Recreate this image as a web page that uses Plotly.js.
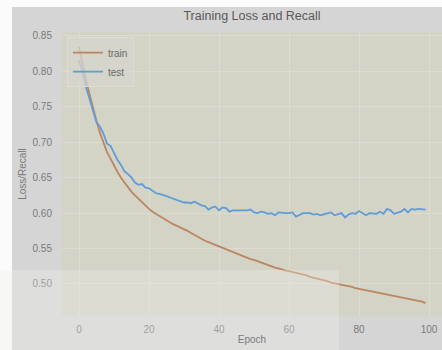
<!DOCTYPE html>
<html>
<head>
<meta charset="utf-8">
<script src="https://cdn.plot.ly/plotly-3.0.1.min.js"></script>
<style>
  html, body { margin: 0; padding: 0; background: #ffffff; }
  #chart { width: 442px; height: 350px; }
</style>
</head>
<body>
<div id="chart"></div>
<script>
// Per-epoch loss (train) and recall (test) history
const epochs = Array.from({length: 100}, (_, i) => i);

const trainValues = [
  0.835, 0.810, 0.788, 0.768, 0.748, 0.730, 0.713, 0.698, 0.686, 0.677,
  0.667, 0.658, 0.650, 0.643, 0.636, 0.630, 0.625, 0.620, 0.615, 0.610,
  0.606, 0.602, 0.599, 0.596, 0.593, 0.589, 0.587, 0.584, 0.582, 0.580,
  0.577, 0.575, 0.572, 0.569, 0.566, 0.563, 0.561, 0.559, 0.557, 0.555,
  0.553, 0.551, 0.549, 0.547, 0.545, 0.542, 0.541, 0.539, 0.537, 0.535,
  0.534, 0.532, 0.530, 0.528, 0.526, 0.525, 0.523, 0.522, 0.520, 0.519,
  0.518, 0.517, 0.515, 0.514, 0.513, 0.512, 0.510, 0.509, 0.508, 0.506,
  0.505, 0.504, 0.502, 0.501, 0.500, 0.500, 0.498, 0.497, 0.496, 0.494,
  0.493, 0.492, 0.491, 0.490, 0.489, 0.489, 0.488, 0.486, 0.485, 0.485,
  0.484, 0.482, 0.481, 0.480, 0.479, 0.478, 0.477, 0.476, 0.475, 0.473
];

const testValues = [
  0.815, 0.800, 0.778, 0.762, 0.745, 0.728, 0.722, 0.712, 0.698, 0.695,
  0.685, 0.675, 0.668, 0.659, 0.655, 0.650, 0.643, 0.640, 0.641, 0.636,
  0.635, 0.632, 0.628, 0.627, 0.626, 0.624, 0.622, 0.620, 0.618, 0.617,
  0.615, 0.615, 0.614, 0.616, 0.613, 0.611, 0.610, 0.605, 0.608, 0.609,
  0.604, 0.608, 0.607, 0.602, 0.604, 0.604, 0.603, 0.603, 0.604, 0.605,
  0.601, 0.600, 0.602, 0.601, 0.599, 0.600, 0.597, 0.601, 0.600, 0.600,
  0.600, 0.601, 0.595, 0.598, 0.600, 0.600, 0.600, 0.598, 0.599, 0.597,
  0.598, 0.600, 0.601, 0.597, 0.599, 0.600, 0.594, 0.598, 0.600, 0.599,
  0.603, 0.600, 0.597, 0.600, 0.600, 0.599, 0.602, 0.599, 0.606, 0.604,
  0.599, 0.601, 0.602, 0.606, 0.601, 0.606, 0.605, 0.606, 0.606, 0.605
];

const xTicks = [0, 20, 40, 60, 80, 100];
const yTicks = [0.50, 0.55, 0.60, 0.65, 0.70, 0.75, 0.80, 0.85];
const yTickText = yTicks.map(v => v.toFixed(2));

const FONT = '"Liberation Sans", Arial, sans-serif';
const TEXT_GRAY = '#7a7a7a';
const GRID = '#dcdcd1';

const traces = [
  {
    x: epochs, y: trainValues, name: 'train', type: 'scatter', mode: 'lines',
    line: {color: '#bd8560', width: 1.8}
  },
  {
    x: epochs, y: testValues, name: 'test', type: 'scatter', mode: 'lines',
    line: {color: '#5f9cd8', width: 1.8}
  }
];

const layout = {
  width: 442,
  height: 350,
  margin: {l: 62, r: 0, t: 32, b: 34, pad: 0},
  paper_bgcolor: '#d5d5d5',
  plot_bgcolor: '#d3d3c6',
  font: {family: FONT, size: 10, color: TEXT_GRAY},
  title: {
    text: 'Training Loss and Recall',
    font: {family: FONT, size: 12.5, color: '#5a5a5a'},
    x: 0.5, xref: 'paper', xanchor: 'center',
    y: 20, yref: 'container', yanchor: 'middle'
  },
  xaxis: {
    range: [-4.857, 103.71],
    tickvals: xTicks,
    ticks: 'outside', ticklen: 4, tickcolor: 'rgba(0,0,0,0)',
    showgrid: true, gridcolor: GRID, gridwidth: 1,
    zeroline: false, showline: false,
    tickfont: {family: FONT, size: 10, color: TEXT_GRAY},
    title: {text: 'Epoch', font: {family: FONT, size: 10, color: TEXT_GRAY}, standoff: 1}
  },
  yaxis: {
    range: [0.4548, 0.8556],
    tickvals: yTicks,
    ticktext: yTickText,
    ticks: 'outside', ticklen: 7, tickcolor: 'rgba(0,0,0,0)',
    showgrid: true, gridcolor: GRID, gridwidth: 1,
    zeroline: false, showline: false,
    tickfont: {family: FONT, size: 10, color: TEXT_GRAY},
    title: {text: 'Loss/Recall', font: {family: FONT, size: 10, color: TEXT_GRAY}, standoff: 4}
  },
  showlegend: true,
  legend: {
    x: 0.013, y: 0.982, xanchor: 'left', yanchor: 'top',
    bgcolor: 'rgba(214,214,204,0.75)',
    bordercolor: '#dedcd3', borderwidth: 1,
    font: {family: FONT, size: 10, color: '#6a6a6a'},
    tracegroupgap: 0
  },
  shapes: [
    // white margin strips along the top and left edges
    {type: 'rect', xref: 'paper', yref: 'paper', layer: 'below',
     x0: -62/380, x1: 1.1, y0: 1 + 25/284, y1: 1 + 40/284,
     fillcolor: '#fbfbfb', line: {width: 0}},
    {type: 'rect', xref: 'paper', yref: 'paper', layer: 'below',
     x0: -62/380, x1: -50/380, y0: -40/284, y1: 1.2,
     fillcolor: '#fbfbfb', line: {width: 0}},
    // pale wash over the lower-left corner
    {type: 'rect', xref: 'paper', yref: 'paper', layer: 'above',
     x0: -62/380, x1: 277/380, y0: -40/284, y1: 46/284,
     fillcolor: 'rgba(240,240,236,0.33)', line: {width: 0}}
  ]
};

Plotly.newPlot('chart', traces, layout, {displayModeBar: false, staticPlot: true});
</script>
</body>
</html>
